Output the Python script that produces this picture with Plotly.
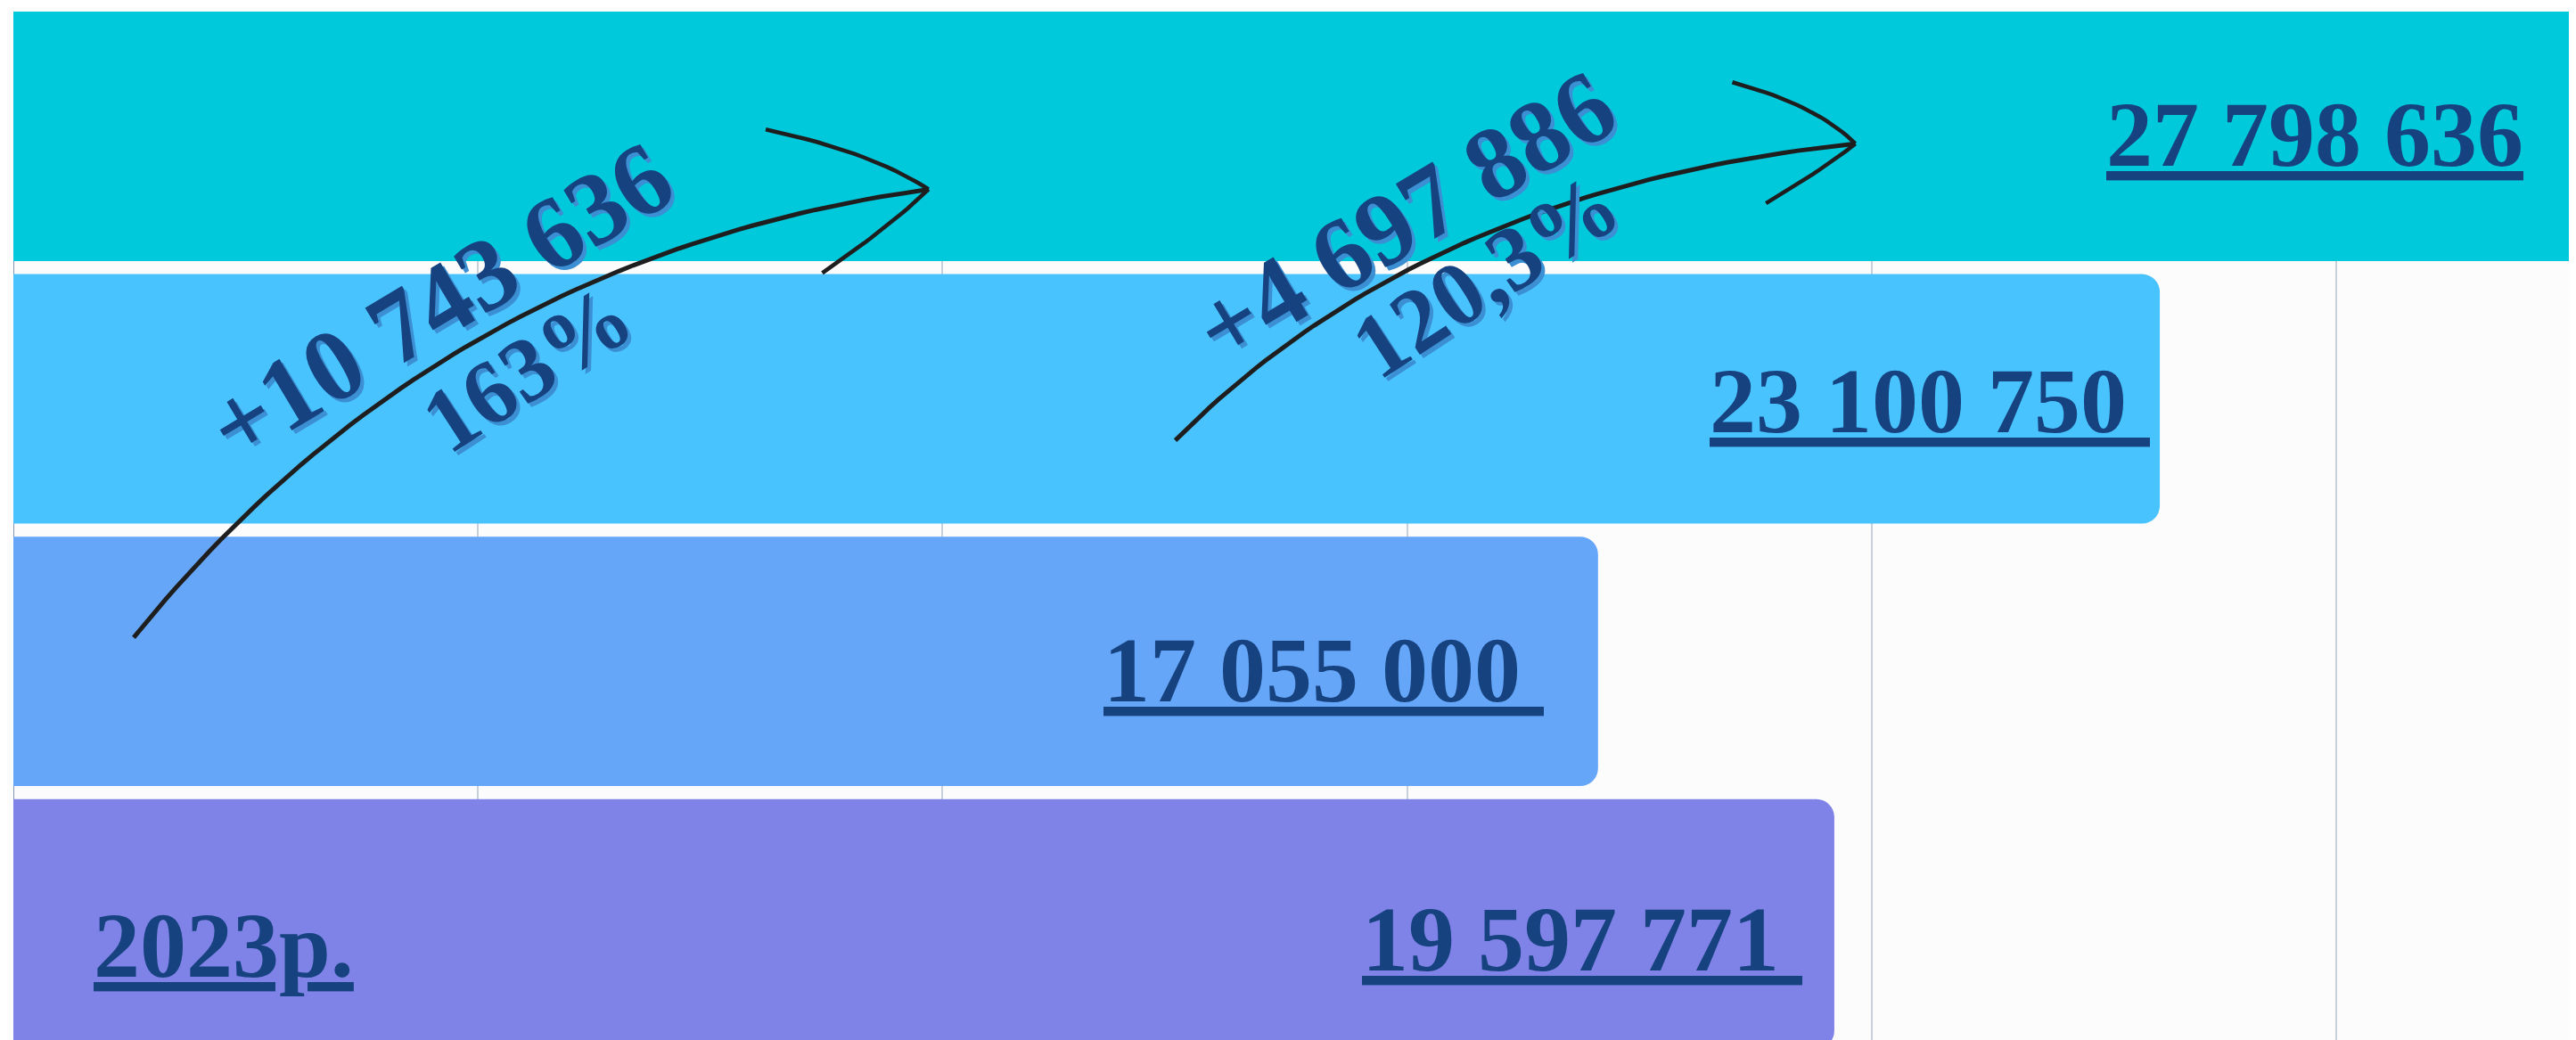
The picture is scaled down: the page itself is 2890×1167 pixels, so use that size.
import numpy as np
import plotly.graph_objects as go

# ---------------- data ----------------
# bars from bottom to top
values = [19597771, 17055000, 23100750, 27798636]
year_label = "2023р."
# growth comparisons: (from bar index, to bar index, percent decimals)
growth_pairs = [(1, 3, 0), (2, 3, 1)]
grid_step = 5_000_000

# ---------------- styles ----------------
bar_colors = ["#7F82E6", "#66A6F8", "#49C3FE", "#00C9DC"]
text_color = "#164380"
shadow_color = "#3B8FD2"
font_family = "Liberation Serif"
x_max = 27_580_000
y_range = [-0.442, 3.475]

label_trailing = ["\u00a0", "\u00a0", "\u00a0", ""]
label_xshift = [-34, -59, -9, -57]
label_yshift = [-17, -9, -2, 2]

# arrow geometry (start, control, end, upper barb start, lower barb end) in data units
arrow_geom = [
    dict(p0=(1.295e6, 1.091), p1=(4.60e6, 2.540), p2=(9.85e6, 2.798),
         bu=(8.097e6, 3.026), bl=(8.706e6, 2.479)),
    dict(p0=(12.505e6, 1.842), p1=(15.186e6, 2.800), p2=(19.824e6, 2.972),
         bu=(18.50e6, 3.206), bl=(18.862e6, 2.745)),
]
# rotated growth labels positions (data units)
diff_pos = [(4.586e6, 2.370), (14.97e6, 2.692)]
pct_pos = [(5.526e6, 2.116), (15.852e6, 2.471)]
diff_angle = -31
pct_angle = -33


def fmt_int(n):
    return f"{n:,}".replace(",", " ")


def underline(s):
    return ('<span style="text-decoration:underline;'
            'text-decoration-thickness:8px;text-underline-offset:5px">'
            + s + '</span>')


def bezier(p0, p1, p2, n=60):
    t = np.linspace(0, 1, n)
    bx = (1 - t) ** 2 * p0[0] + 2 * (1 - t) * t * p1[0] + t ** 2 * p2[0]
    by = (1 - t) ** 2 * p0[1] + 2 * (1 - t) * t * p1[1] + t ** 2 * p2[1]
    return bx, by


ypos = list(range(len(values)))

fig = go.Figure()
fig.add_trace(go.Bar(
    x=values, y=ypos, orientation="h",
    marker=dict(color=bar_colors, line=dict(width=0), cornerradius=20),
    hoverinfo="skip", showlegend=False,
))

annotations = []
# value labels
for i, v in enumerate(values):
    anchor = min(v, x_max)
    annotations.append(dict(
        x=anchor, y=ypos[i], xref="x", yref="y",
        text=underline(fmt_int(v) + label_trailing[i]),
        showarrow=False, xanchor="right", yanchor="middle",
        xshift=label_xshift[i], yshift=label_yshift[i],
        font=dict(family=font_family, size=104, color=text_color, weight=700),
    ))

# year label
annotations.append(dict(
    x=0, y=ypos[0], xref="x", yref="y",
    text=underline(year_label), showarrow=False,
    xanchor="left", yanchor="middle", xshift=88, yshift=-24,
    font=dict(family=font_family, size=104, color=text_color, weight=700),
))

# arrows (sketched curved arrows)
for g in arrow_geom:
    bx, by = bezier(g["p0"], g["p1"], g["p2"])
    fig.add_trace(go.Scatter(x=bx, y=by, mode="lines",
                             line=dict(color="#1E1E1E", width=5),
                             hoverinfo="skip", showlegend=False))
    tip = g["p2"]
    # slightly curved barbs
    for s in (g["bu"], g["bl"]):
        mid = ((s[0] + tip[0]) / 2 + 0.25e6, (s[1] + tip[1]) / 2 + 0.03)
        if s is g["bl"]:
            mid = ((s[0] + tip[0]) / 2 + 0.2e6, (s[1] + tip[1]) / 2 + 0.03)
        hx, hy = bezier(s, mid, tip, 20)
        fig.add_trace(go.Scatter(x=hx, y=hy, mode="lines",
                                 line=dict(color="#1E1E1E", width=4.5),
                                 hoverinfo="skip", showlegend=False))

# growth labels
for k, (a, b, dec) in enumerate(growth_pairs):
    diff = values[b] - values[a]
    pct = values[b] / values[a] * 100
    pct_txt = f"{pct:.{dec}f}".replace(".", ",") + "%"
    for txt, pos, size, ang in [("+" + fmt_int(diff), diff_pos[k], 115, diff_angle),
                                (pct_txt, pct_pos[k], 102, pct_angle)]:
        for col, dx, dy in [(shadow_color, 4, -4), (text_color, 0, 0)]:
            annotations.append(dict(
                x=pos[0], y=pos[1], xref="x", yref="y", text=txt,
                showarrow=False, textangle=ang,
                xanchor="center", yanchor="middle", xshift=dx, yshift=dy,
                font=dict(family=font_family, size=size, color=col, weight=700),
            ))

fig.update_layout(
    width=2882, height=1159,
    margin=dict(l=7, r=0, t=5, b=0),
    paper_bgcolor="#FCFCFC", plot_bgcolor="#FCFCFC",
    bargap=0.05,
    annotations=annotations,
    xaxis=dict(range=[0, x_max], dtick=grid_step, tick0=0,
               showgrid=True, gridcolor="#C8D0DC", gridwidth=2,
               zeroline=True, zerolinecolor="#8494B4", zerolinewidth=1,
               showticklabels=False, ticks="", showline=False, fixedrange=True),
    yaxis=dict(range=y_range, showgrid=False, zeroline=False,
               showticklabels=False, ticks="", showline=False, fixedrange=True),
)

fig.write_html("out.html", config={"displayModeBar": False})
